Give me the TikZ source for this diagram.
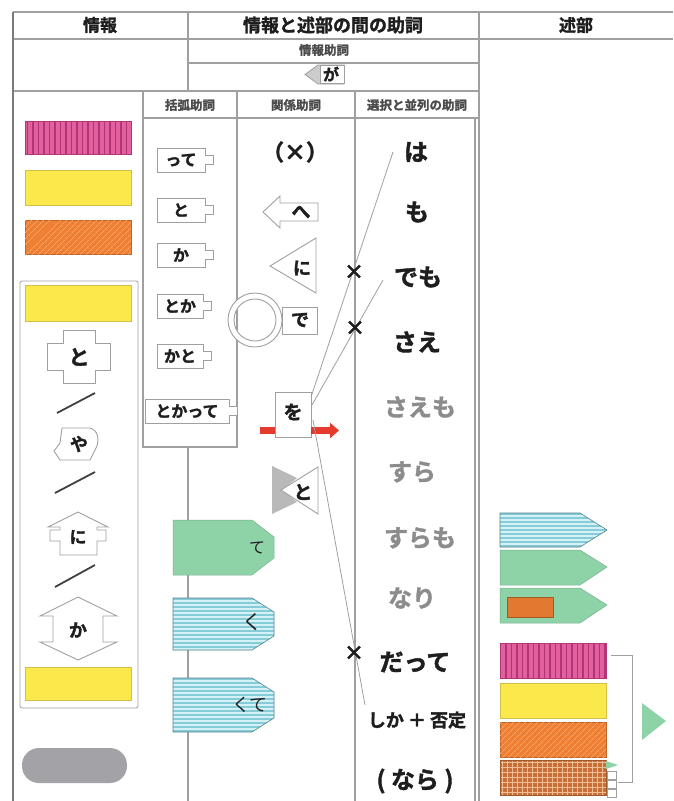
\documentclass[tikz,border=0pt]{standalone}
\usepackage{fontspec}
\newfontfamily\jp{Noto Sans CJK JP}[BoldFont={Noto Sans CJK JP Bold}, BoldFeatures={FakeBold=1.6}]
\usetikzlibrary{patterns.meta,arrows.meta,calc}
\definecolor{ln}{HTML}{A0A0A0}
\definecolor{lnd}{HTML}{7A7A7A}
\definecolor{pinkf}{HTML}{E2609E}
\definecolor{pinks}{HTML}{B23676}
\definecolor{yel}{HTML}{FBE94C}
\definecolor{yelb}{HTML}{D2BE4A}
\definecolor{ora}{HTML}{EE7F33}
\definecolor{oras}{HTML}{F6A86C}
\definecolor{cya}{HTML}{86CCD8}
\definecolor{cyas}{HTML}{D4F1F5}
\definecolor{mint}{HTML}{8ED2A8}
\definecolor{plaidf}{HTML}{C8703A}
\definecolor{plaids}{HTML}{F0BE94}
\definecolor{pillc}{HTML}{A3A3A7}
\definecolor{redc}{HTML}{E53A2C}
\definecolor{txt}{HTML}{1E1E1E}
\definecolor{gtxt}{HTML}{8C8C8C}
\newcommand\jb[1]{\jp\bfseries\fontsize{#1}{#1}\selectfont}
\newcommand\jr[1]{\jp\fontsize{#1}{#1}\selectfont}
\begin{document}
\begin{tikzpicture}[x=1pt,y=-1pt,
  tbl/.style={draw=ln, line width=1.3pt},
  thinl/.style={draw=ln, line width=0.8pt},
  lbl/.style={inner sep=0pt, text=txt},
  hd/.style={lbl, font=\jb{17}},
  sm/.style={lbl, font=\jb{12.5}, text=txt!80},
  big/.style={lbl, font=\jb{24}},
  bigg/.style={big, text=gtxt},
  kk/.style={draw=ln, fill=white, line width=0.8pt, font=\jb{16}, text=txt, inner xsep=2pt, inner ysep=0pt, minimum height=24pt},
  shp/.style={draw=ln, fill=white, line width=0.9pt},
  slash/.style={draw=txt!85, line width=1.8pt},
  pinkbar/.style={fill=pinkf, draw=pinks, line width=0.6pt, postaction={pattern={Lines[angle=90,distance=5.5pt,line width=1.3pt]}, pattern color=pinks}},
  yelbar/.style={fill=yel, draw=yelb, line width=0.7pt},
  orabar/.style={fill=ora, draw=ora!80!black, line width=0.5pt, postaction={pattern={Lines[angle=45,distance=4pt,line width=0.7pt]}, pattern color=oras}},
  cyaline/.style={draw=cyas, line width=1.5pt},
  cyaedge/.style={draw=cya!65!black, line width=0.6pt},
  mintbar/.style={fill=mint, draw=mint!85!black, line width=0.5pt},
  conn/.style={draw=ln, line width=0.8pt}
]
\useasboundingbox[fill=white] (0,0) rectangle (673,801);

% ---------- table frame ----------
\draw[tbl] (13,12) -- (673,12);
\draw[tbl] (13,39) -- (673,39);
\draw[tbl] (188,12) -- (188,91);
\draw[tbl] (479,12) -- (479,801);
\draw[tbl] (188,63) -- (479,63);
\draw[tbl] (13,91) -- (479,91);
\draw[tbl] (143,118) -- (479,118);
\draw[tbl] (143,91) -- (143,447) -- (237,447) -- (237,91);
\draw[tbl] (355,91) -- (355,801);
\draw[tbl] (475,118) -- (475,801);
\draw[tbl] (188,447) -- (188,801);
\draw[draw=lnd, line width=2pt] (13,12) -- (13,801);

% ---------- headers ----------
\node[hd] (h1) at (100,25) {情報};
\node[hd, font=\jb{18}] (h2) at (333,25) {情報と述部の間の助詞};
\node[hd] (h3) at (576,25) {述部};
\node[sm] (jh) at (324,50) {情報助詞};
\path[fill=gray!40, draw=ln, line width=0.8pt] (305,74.5) -- (318,65) -- (344,65) -- (344,84) -- (318,84) -- cycle;
\path[fill=white, draw=ln, line width=0.6pt] (320,65.5) rectangle (344,83.5);
\node[lbl, font=\jb{16}] (ga) at (331,74) {が};
\node[sm] (c1) at (190,105) {括弧助詞};
\node[sm] (c2) at (296,105) {関係助詞};
\node[sm] (c3) at (417,105) {選択と並列の助詞};

% ---------- 情報 column ----------
\path[pinkbar] (25,121) rectangle (131,154);
\path[yelbar] (25,170) rectangle (131,205);
\path[orabar] (25,220) rectangle (131,254);
\draw[thinl, rounded corners=2pt] (20,281) rectangle (138,708);
\path[yelbar] (25,285) rectangle (131,321);
\path[shp] (63,330) -- (95,330) -- (95,343) -- (110,343) -- (110,370) -- (95,370) -- (95,383) -- (63,383) -- (63,370) -- (47,370) -- (47,343) -- (63,343) -- cycle;
\node[lbl, font=\jb{21}] (to1) at (79,357) {と};
\draw[slash] (57,413) -- (95,393);
\path[shp] (62,428) -- (90,428) .. controls (98,430) and (100,440) .. (96,448) -- (90,460) -- (60,460) -- (54,451) -- (60,443) -- cycle;
\node[lbl, font=\jb{18}] (ya) at (79,444) {や};
\draw[slash] (55,493) -- (95,472);
\path[shp] (78,512) -- (108,527) -- (97,527) -- (97,530) -- (106,530) -- (106,541) -- (97,541) -- (97,555) -- (60,555) -- (60,541) -- (50,541) -- (50,530) -- (60,530) -- (60,527) -- (48,527) -- cycle;
\node[lbl, font=\jb{17}] (ni1) at (78,537) {に};
\draw[slash] (55,587) -- (95,565);
\path[shp] (78,597) -- (117,616) -- (103,616) -- (103,642) -- (117,642) -- (78,660) -- (40,642) -- (53,642) -- (53,616) -- (40,616) -- cycle;
\node[lbl, font=\jb{18}] (ka1) at (78,630) {か};
\path[yelbar] (25,667) rectangle (131,700);
\path[fill=pillc, rounded corners=17pt] (22,748) rectangle (127,783);

% ---------- 括弧助詞 ----------
\node[kk, minimum width=48pt] (k1) at (181,160) {って};
\node[kk, minimum width=48pt] (k2) at (181,210) {と};
\node[kk, minimum width=48pt] (k3) at (181,255) {か};
\node[kk, minimum width=46pt] (k4) at (180,306) {とか};
\node[kk, minimum width=46pt] (k5) at (180,356) {かと};
\node[kk, minimum width=84pt] (k6) at (187,411) {とかって};
\foreach \n in {k1,k2,k3,k4,k5,k6}
  \path[draw=ln, fill=white, line width=0.8pt] ($(\n.east)+(0,-4.5)$) -- ++(8,0) -- ++(0,9) -- ++(-8,0);

% ---------- 関係助詞 ----------
\node[lbl, font=\jb{22}] (kx) at (295,152) {（×）};
\path[shp] (263,212) -- (280,196) -- (280,203) -- (318,203) -- (318,221) -- (280,221) -- (280,228) -- cycle;
\node[lbl, font=\jb{19}] (he) at (301,212) {へ};
\path[shp] (270,266) -- (316,238) -- (316,293) -- cycle;
\node[lbl, font=\jb{18}] (ni2) at (302,268) {に};
\path[shp, even odd rule] (255,320) circle[radius=27pt] (255,320) circle[radius=21pt];
\path[shp] (282,307) rectangle (317,334);
\node[lbl, font=\jb{18}] (de) at (300,320) {で};
\path[shp] (275,392) rectangle (311,437);
\node[lbl, font=\jb{19}] (wo) at (293,412) {を};
\fill[redc] (260,427) rectangle (275,434);
\draw[redc, line width=6.5pt, -{Triangle[length=9pt,width=15pt]}] (311,430.5) -- (339,430.5);
\path[fill=gray!55] (272,466) -- (297,478) -- (282,490) -- (297,502) -- (272,514) -- cycle;
\path[shp] (318,467) -- (318,514) -- (281,490) -- cycle;
\node[lbl, font=\jb{19}] (to2) at (303,492) {と};

% ---------- tags in 情報 sub column ----------
\path[mintbar] (173,520) -- (252,520) -- (274,537) -- (274,558) -- (252,575) -- (173,575) -- cycle;
\node[lbl, font=\jr{16}] (te) at (257,548) {て};
\foreach \ya/\yb in {598/650, 678/732}{
  \path[fill=cya] (173,\ya) -- (252,\ya) -- (274,\ya+14) -- (274,\yb-14) -- (252,\yb) -- (173,\yb) -- cycle;
  \begin{scope}
    \clip (173,\ya) -- (252,\ya) -- (274,\ya+14) -- (274,\yb-14) -- (252,\yb) -- (173,\yb) -- cycle;
    \foreach \k in {1,...,13} \draw[cyaline] (170,\ya+4*\k-1) -- (280,\ya+4*\k-1);
  \end{scope}
  \path[cyaedge] (173,\ya) -- (252,\ya) -- (274,\ya+14) -- (274,\yb-14) -- (252,\yb) -- (173,\yb) -- cycle;
}
\node[lbl, font=\jr{20}] (ku) at (252,622) {く};
\node[lbl, font=\jr{18}] (kute) at (250,705) {くて};

% ---------- 選択と並列の助詞 ----------
\node[big] (ha) at (416,152) {は};
\node[big] (mo) at (417,212) {も};
\node[big] (demo) at (418,277) {でも};
\node[big] (sae) at (417,342) {さえ};
\node[bigg] (saemo) at (420,407) {さえも};
\node[bigg] (sura) at (412,472) {すら};
\node[bigg] (suramo) at (420,538) {すらも};
\node[bigg] (nari) at (412,598) {なり};
\node[big] (datte) at (415,662) {だって};
\node[lbl, font=\jb{18}] (shika) at (417,720) {しか ＋ 否定};
\node[big] (nara) at (415,781) {( なら )};

% ---------- connectors ----------
\coordinate (a1) at (393,152);
\coordinate (a2) at (311,397);
\coordinate (b1) at (383,280);
\coordinate (b2) at (312,405);
\coordinate (c1s) at (313,420);
\coordinate (c2e) at (365,705);
\draw[conn] (a1) -- (a2);
\draw[conn] (b1) -- (b2);
\draw[conn] (c1s) -- (c2e);
\node[lbl, font=\jb{20}] (x1) at (354,272) {×};
\node[lbl, font=\jb{20}] (x2) at (355,328) {×};
\node[lbl, font=\jb{20}] (x3) at (354,653) {×};

% ---------- 述部 ----------
\path[fill=cya] (500,513) -- (580,513) -- (607,530) -- (580,547) -- (500,547) -- cycle;
\begin{scope}
  \clip (500,513) -- (580,513) -- (607,530) -- (580,547) -- (500,547) -- cycle;
  \foreach \k in {1,...,9} \draw[cyaline] (498,513+4*\k-1) -- (610,513+4*\k-1);
\end{scope}
\path[cyaedge] (500,513) -- (580,513) -- (607,530) -- (580,547) -- (500,547) -- cycle;
\path[mintbar] (500,550) -- (580,550) -- (607,567) -- (580,585) -- (500,585) -- cycle;
\path[mintbar] (500,588) -- (580,588) -- (607,605) -- (580,623) -- (500,623) -- cycle;
\path[fill=ora!95!black, draw=ora!70!black, line width=0.5pt] (507,597) rectangle (553,617);
\path[pinkbar] (500,643) rectangle (606,678);
\path[yelbar] (500,683) rectangle (606,718);
\path[orabar] (500,722) rectangle (606,757);
\path[fill=plaidf] (500,760) rectangle (606,795);
\begin{scope}
  \clip (500,760) rectangle (606,795);
  \foreach \k in {0,...,21} \draw[draw=plaids, line width=0.9pt] (502+5*\k,758) -- (502+5*\k,797);
  \foreach \k in {0,...,7} \draw[draw=plaids, line width=0.9pt] (498,762+5*\k) -- (608,762+5*\k);
\end{scope}
\path[draw=plaidf!80!black, line width=0.5pt] (500,760) rectangle (606,795);
\path[fill=mint] (606,761) -- (618,765) -- (606,769) -- cycle;
\foreach \yy in {771,780,789}
  \path[fill=white, draw=ln, line width=0.5pt] (607,\yy) rectangle (616,\yy+8);
\draw[conn] (611,655) -- (632,655) -- (632,782) -- (618,782);
\path[fill=mint] (642,703) -- (666,721) -- (642,740) -- cycle;
\end{tikzpicture}
\end{document}
